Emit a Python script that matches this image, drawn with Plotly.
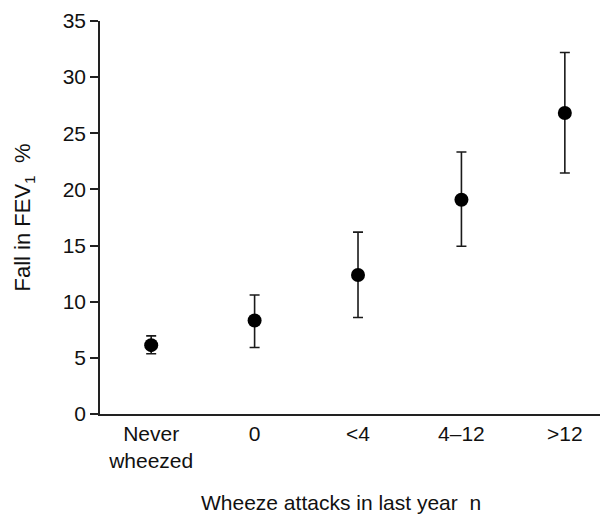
import plotly.graph_objects as go

categories = ["Never<br>wheezed", "0", "<4", "4–12", ">12"]
means = [6.13, 8.33, 12.38, 19.08, 26.8]
upper = [6.96, 10.6, 16.2, 23.33, 32.2]
lower = [5.36, 5.92, 8.6, 14.94, 21.46]
y_ticks = [0, 5, 10, 15, 20, 25, 30, 35]
x_title = "Wheeze attacks in last year  n"
y_title = "Fall in FEV<sub>1</sub>  %"

xpos = list(range(len(categories)))
err_plus = [u - m for u, m in zip(upper, means)]
err_minus = [m - l for m, l in zip(means, lower)]

FONT = "Liberation Sans, Arial, sans-serif"
FS = 21

fig = go.Figure(go.Scatter(
    x=xpos, y=means, mode="markers",
    marker=dict(color="black", size=14),
    error_y=dict(type="data", symmetric=False, array=err_plus, arrayminus=err_minus,
                 color="#1a1a1a", thickness=1.6, width=5),
    showlegend=False,
))

fig.update_layout(
    width=600, height=515,
    margin=dict(l=100, r=0, t=21, b=101),
    paper_bgcolor="white", plot_bgcolor="white",
    font=dict(family=FONT, size=FS, color="#111111"),
    xaxis=dict(
        range=[-0.495, 4.34], tickmode="array", tickvals=xpos, ticktext=categories,
        showline=True, linecolor="#222222", linewidth=1.5, ticks="", showgrid=False,
        zeroline=False, tickfont=dict(size=FS),
    ),
    yaxis=dict(
        range=[0, 35], tickmode="array", tickvals=y_ticks,
        showline=True, linecolor="#222222", linewidth=1.5, ticks="outside", ticklen=8,
        tickcolor="#222222", tickwidth=1.5, showgrid=False, zeroline=False,
        tickfont=dict(size=FS),
        title=dict(text=y_title, standoff=26, font=dict(size=22)),
    ),
    annotations=[dict(
        text=x_title, xref="paper", yref="paper", x=0.482, y=-0.226,
        xanchor="center", yanchor="middle", showarrow=False, font=dict(size=FS),
    )],
)

fig.write_html("out.html")
